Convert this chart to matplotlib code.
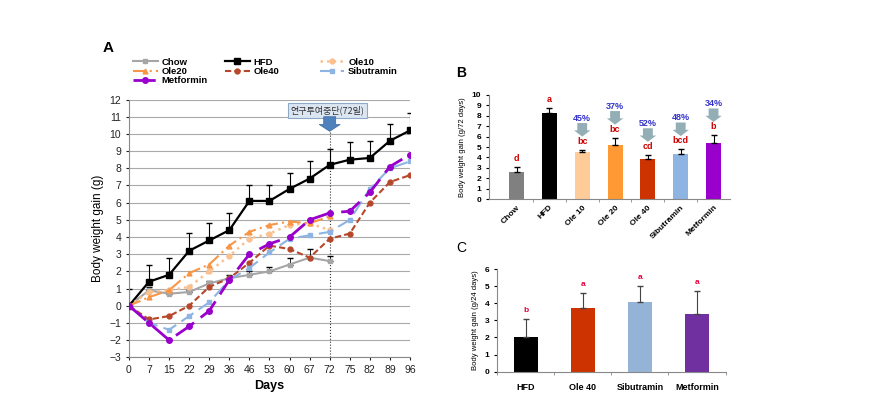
import matplotlib.pyplot as plt
from matplotlib.patches import FancyArrow
import numpy as np

plt.rcParams['font.family'] = ['Liberation Sans', 'Noto Sans CJK KR', 'DejaVu Sans']

# ---- Panel A data (time course) ----
days = ['0', '7', '15', '22', '29', '36', '46', '53', '60', '67', '72', '75', '82', '89', '96']
chow = [0, 0.9, 0.7, 0.8, 1.3, 1.6, 1.8, 2.0, 2.4, 2.8, 2.6]
chow_err = [0, 0.2, 0.1, 0.1, 0.15, 0.2, 0.25, 0.25, 0.35, 0.5, 0.3]
hfd = [0, 1.4, 1.8, 3.2, 3.8, 4.4, 6.1, 6.1, 6.8, 7.4, 8.2, 8.5, 8.6, 9.6, 10.2]
hfd_err = [1.0, 1.0, 1.0, 1.05, 1.0, 1.0, 0.95, 0.95, 0.95, 1.0, 0.95, 1.0, 1.0, 1.0, 1.0]
ole10 = [0, 0.8, 0.9, 1.1, 2.0, 2.9, 3.9, 4.2, 4.7, 4.8, 4.4]
ole20 = [0, 0.5, 0.9, 1.9, 2.4, 3.5, 4.3, 4.7, 4.9, 4.8, 5.2]
ole40 = [0, -0.8, -0.6, 0.0, 1.1, 1.6, 2.5, 3.5, 3.3, 2.8, 3.9, 4.2, 6.0, 7.2, 7.6]
sibu = [0, -1.0, -1.4, -0.6, 0.2, 1.5, 2.2, 3.1, 3.9, 4.1, 4.3, 5.0, 6.8, 8.0, 8.4]
metf = [0, -1.0, -2.0, -1.2, -0.3, 1.5, 3.0, 3.6, 4.0, 5.0, 5.4, 5.5, 6.6, 8.1, 8.8]

# ---- Panel B data (gain over 72 days) ----
b_groups = ['Chow', 'HFD', 'Ole 10', 'Ole 20', 'Ole 40', 'Sibutramin', 'Metformin']
b_values = [2.6, 8.3, 4.55, 5.2, 3.85, 4.3, 5.4]
b_errors = [0.5, 0.45, 0.2, 0.7, 0.4, 0.5, 0.75]
b_letters = ['d', 'a', 'bc', 'bc', 'cd', 'bcd', 'b']
b_percent = ['', '', '45%', '37%', '52%', '48%', '34%']
b_colors = ['#808080', '#000000', '#FFCC99', '#FF9933', '#CC3300', '#8DB4E2', '#9900CC']

# ---- Panel C data (gain over 24 days) ----
c_groups = ['HFD', 'Ole 40', 'Sibutramin', 'Metformin']
c_values = [2.0, 3.7, 4.1, 3.4]
c_errors = [1.05, 0.9, 0.9, 1.3]
c_letters = ['b', 'a', 'a', 'a']
c_colors = ['#000000', '#CC3300', '#95B3D7', '#7030A0']

fig = plt.figure(figsize=(8.69, 4.2), dpi=100)

# ================= Panel A =================
axA = fig.add_axes([0.1484, 0.1493, 0.3234, 0.6137])
x = np.arange(len(days))

series = [
    ('Chow', chow, '#A6A6A6', '-', 's', 1.5, 3.5),
    ('HFD', hfd, '#000000', '-', 's', 1.6, 4),
    ('Ole10', ole10, '#FAC090', ':', 'o', 1.8, 3.5),
    ('Ole20', ole20, '#F79646', (0, (6, 2, 1, 2)), '^', 1.5, 3.5),
    ('Ole40', ole40, '#B7472A', (0, (3, 1.5)), 'o', 1.5, 3.5),
    ('Sibutramin', sibu, '#8DB4E2', (0, (7, 3)), 's', 1.5, 3.5),
    ('Metformin', metf, '#9900CC', (0, (8, 3)), 'o', 2.0, 4),
]
handles = {}
for name, vals, col, ls, mk, lw, ms in series:
    h, = axA.plot(x[:len(vals)], vals, color=col, linestyle=ls, marker=mk,
                  lw=lw, ms=ms, zorder=3)
    handles[name] = h

axA.errorbar(x, hfd, yerr=[np.zeros(len(hfd)), hfd_err], fmt='none',
             ecolor='black', elinewidth=0.8, capsize=2.5, zorder=2)
axA.errorbar(x[:len(chow)], chow, yerr=[np.zeros(len(chow)), chow_err], fmt='none',
             ecolor='black', elinewidth=0.6, capsize=2, zorder=2)

axA.set_xlim(0, 14)
axA.set_ylim(-3, 12)
axA.set_yticks(range(-3, 13))
axA.set_xticks(x)
axA.set_xticklabels(days)
axA.tick_params(labelsize=7.5, length=2, colors='#222222')
axA.yaxis.grid(True, color='#AAAAAA', lw=0.8)
axA.set_axisbelow(True)
for s in ['top', 'right']:
    axA.spines[s].set_visible(False)
for s in ['left', 'bottom']:
    axA.spines[s].set_color('#888888')
axA.set_ylabel('Body weight gain (g)', fontsize=8.5)
axA.set_xlabel('Days', fontsize=9, fontweight='bold')

# stop-of-treatment marker at day 72
axA.plot([10, 10], [-3, 10.1], ':', color='#333333', lw=0.8, zorder=1)
axA.add_patch(FancyArrow(10, 11.0, 0, -0.85, width=0.6, head_width=1.05,
                         head_length=0.4, length_includes_head=True,
                         fc='#4F81BD', ec='#3A6A9E', lw=0.5, zorder=4))
axA.text(9.9, 11.35, '연구투여중단(72일)', fontsize=6.5, ha='center', va='center',
         family=['Noto Sans CJK KR', 'DejaVu Sans'], color='#333333',
         bbox=dict(boxstyle='square,pad=0.3', fc='#DCE6F2', ec='#8EA9C8', lw=0.8))

# legend in three separate columns, as in the original layout
legend_cols = [(['Chow', 'Ole20', 'Metformin'], 0.153),
               (['HFD', 'Ole40'], 0.259),
               (['Ole10', 'Sibutramin'], 0.368)]
for names, xpos in legend_cols:
    leg = fig.legend([handles[n] for n in names], names, loc='upper left',
                     bbox_to_anchor=(xpos, 0.863), frameon=False,
                     prop={'weight': 'bold', 'size': 6.8}, handlelength=2.6,
                     labelspacing=0.05, handletextpad=0.4, borderpad=0, borderaxespad=0)
fig.text(0.118, 0.885, 'A', fontsize=11, fontweight='bold', ha='left', va='center')

# ================= Panel B =================
axB = fig.add_axes([0.5627, 0.526, 0.2773, 0.248])
xb = np.arange(len(b_groups))
axB.bar(xb, b_values, width=0.46, color=b_colors, zorder=2)
axB.errorbar(xb, b_values, yerr=[np.zeros(len(b_values)), b_errors], fmt='none',
             ecolor='black', elinewidth=0.8, capsize=2, zorder=3)
for i in range(len(b_groups)):
    top = b_values[i] + b_errors[i]
    axB.text(xb[i], top + 0.35, b_letters[i], color='#CC0000', fontsize=6.5,
             fontweight='bold', ha='center', va='bottom')
    if b_percent[i]:
        axB.add_patch(FancyArrow(xb[i], top + 2.55, 0, -1.3, width=0.3, head_width=0.5,
                                 head_length=0.6, length_includes_head=True,
                                 fc='#93AFB5', ec='none', zorder=3))
        axB.text(xb[i], top + 2.6, b_percent[i], color='#3333CC', fontsize=6.5,
                 fontweight='bold', ha='center', va='bottom')
axB.set_xlim(-0.84, 6.5)
axB.set_ylim(0, 10)
axB.set_yticks(range(0, 11))
axB.set_xticks(xb)
axB.set_xticklabels(b_groups, rotation=45, ha='right', rotation_mode='anchor')
axB.set_xticks(xb[:-1] + 0.5, minor=True)
axB.tick_params(axis='x', which='major', length=0, labelsize=6)
axB.tick_params(axis='x', which='minor', length=2, color='#888888')
axB.tick_params(axis='y', labelsize=6, length=2)
for lab in axB.get_xticklabels() + axB.get_yticklabels():
    lab.set_fontweight('bold')
for s in ['top', 'right']:
    axB.spines[s].set_visible(False)
for s in ['left', 'bottom']:
    axB.spines[s].set_color('#888888')
axB.set_ylabel('Body weight gain (g/72 days)', fontsize=5.5)
fig.text(0.525, 0.826, 'B', fontsize=10, fontweight='bold', ha='left', va='center')

# ================= Panel C =================
axC = fig.add_axes([0.572, 0.115, 0.263, 0.2445])
xc = np.arange(len(c_groups))
axC.bar(xc, c_values, width=0.42, color=c_colors, zorder=2)
axC.errorbar(xc, c_values, yerr=[np.zeros(len(c_values)), c_errors], fmt='none',
             ecolor='#444444', elinewidth=0.8, capsize=2, zorder=3)
for i in range(len(c_groups)):
    axC.text(xc[i], c_values[i] + c_errors[i] + 0.3, c_letters[i], color='#E0003C',
             fontsize=6, fontweight='bold', ha='center', va='bottom')
axC.set_xlim(-0.5, 3.5)
axC.set_ylim(0, 6)
axC.set_yticks(range(0, 7))
axC.set_xticks(xc)
axC.set_xticklabels(c_groups)
axC.set_xticks(np.arange(-0.5, 4.0, 1.0), minor=True)
axC.tick_params(axis='x', which='major', length=0, labelsize=6.5, pad=8)
axC.tick_params(axis='x', which='minor', length=2, color='#888888')
axC.tick_params(axis='y', labelsize=6, length=2)
for lab in axC.get_xticklabels() + axC.get_yticklabels():
    lab.set_fontweight('bold')
for s in ['top', 'right']:
    axC.spines[s].set_visible(False)
for s in ['left', 'bottom']:
    axC.spines[s].set_color('#888888')
axC.set_ylabel('Body weight gain (g/24 days)', fontsize=5.5)
fig.text(0.525, 0.41, 'C', fontsize=10, ha='left', va='center')

fig.savefig('out.png', dpi=100)
